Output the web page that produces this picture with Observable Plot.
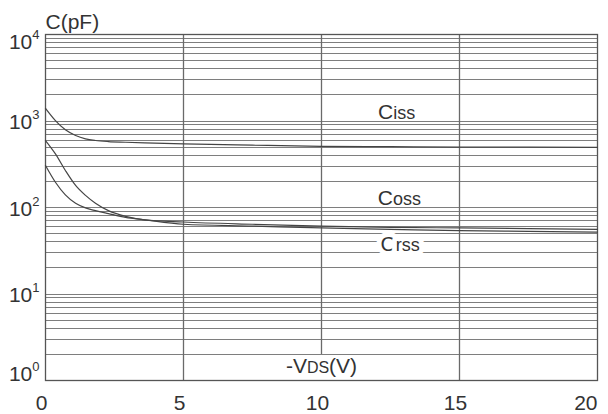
<!DOCTYPE html>
<html><head><meta charset="utf-8">
<script src="https://cdn.jsdelivr.net/npm/d3@7"></script>
<script src="https://cdn.jsdelivr.net/npm/@observablehq/plot@0.6"></script>
<style>body{margin:0;background:#fff}svg{display:block}</style>
</head><body><div id="chart"></div>
<script>
// -VDS (V)
const vds  = [0, 0.36, 0.72, 1.09, 1.45, 1.81, 2.28, 2.9, 3.6, 5, 7.5, 10, 12.5, 15, 17.5, 20];
// capacitances (pF)
const ciss = [1400, 1010, 790, 680, 622, 595, 578, 568, 558, 543, 525, 510, 505, 500, 498, 495];
const coss = [595, 417, 268, 180, 138, 112, 92, 79, 72, 68, 64, 61, 59, 58, 57, 56];
const crss = [306, 196, 140, 112, 99, 92, 85, 77, 72, 64, 61, 58, 56, 54, 53, 52];
const seriesNames = ["Ciss", "Coss", "Crss"];
const xTicks = [0, 5, 10, 15, 20];
const yExponents = [0, 1, 2, 3, 4];
const curveLabels = [
  {text: "C_iss", x: 12.05, y: 1060},
  {text: "C_oss", x: 12.04, y: 108},
  {text: "C_rss", x: 12.14, y: 31.2}
];
const yTitle = "C(pF)";
const xTitle = "-V_DS_(V)";

const series = [ciss, coss, crss];
const rows = [];
series.forEach((vals, i) => vals.forEach((v, j) => rows.push({series: seriesNames[i], x: vds[j], y: v})));

// log grid lines 1..9 x 10^k
const hGrid = [];
for (let e = 0; e < 4; e++) for (let m = 1; m < 10; m++) hGrid.push(m * 10 ** e);
hGrid.push(10 ** 4);

const font = "Liberation Sans, Arial, Helvetica, sans-serif";
const txt = "#333";

const svg = Plot.plot({
  width: 608, height: 414,
  marginLeft: 45, marginRight: 11, marginTop: 34, marginBottom: 34,
  style: {fontFamily: font, background: "white"},
  x: {domain: [0, 20], axis: null},
  y: {type: "log", domain: [1, 10000], axis: null},
  marks: [
    Plot.ruleY(hGrid, {stroke: "#7e7e7e", strokeWidth: 1, shapeRendering: "crispEdges"}),
    Plot.ruleX([5, 15], {stroke: "#6a6a6a", strokeWidth: 1.3}),
    Plot.ruleX([10], {y1: 2, y2: 10000, stroke: "#6a6a6a", strokeWidth: 1.3}),
    Plot.frame({stroke: "#555", strokeWidth: 1.3}),
    Plot.line(rows, {x: "x", y: "y", z: "series", stroke: "#454545", strokeWidth: 1.2, curve: "monotone-x"}),
    Plot.text(curveLabels.slice(0, 2), {x: "x", y: "y", text: "text", textAnchor: "start", lineAnchor: "bottom", fontSize: 21, fill: txt}),
    Plot.text(curveLabels.slice(2), {x: "x", y: "y", text: "text", textAnchor: "start", lineAnchor: "bottom", fontSize: 21, fill: txt, stroke: "white", strokeWidth: 10}),
    Plot.text([xTitle], {frameAnchor: "bottom", dy: -8, lineAnchor: "bottom", fontSize: 21, fill: txt}),
    Plot.text([yTitle], {frameAnchor: "top-left", dy: -6, lineAnchor: "bottom", textAnchor: "start", fontSize: 21, fill: txt}),
    Plot.text(xTicks.filter(d => d < 20), {x: d => d, frameAnchor: "bottom", dy: 29, dx: -4, lineAnchor: "bottom", fontSize: 21, fill: txt}),
    Plot.text(xTicks.filter(d => d === 20), {x: d => d, frameAnchor: "bottom", dy: 29, textAnchor: "end", lineAnchor: "bottom", fontSize: 21, fill: txt}),
    Plot.text(yExponents.filter(e => e > 0 && e < 4), {y: e => 10 ** e, text: e => `10^${e}`, frameAnchor: "left", textAnchor: "end", dx: -6, dy: 8, lineAnchor: "bottom", fontSize: 21, fill: txt}),
    Plot.text(yExponents.filter(e => e === 4), {y: e => 10 ** e, text: e => `10^${e}`, frameAnchor: "left", textAnchor: "end", dx: -6, dy: 14, lineAnchor: "bottom", fontSize: 21, fill: txt}),
    Plot.text(yExponents.filter(e => e === 0), {y: e => 10 ** e, text: e => `10^${e}`, frameAnchor: "left", textAnchor: "end", dx: -6, dy: 0, lineAnchor: "bottom", fontSize: 21, fill: txt})
  ]
});

// rich text: ^ = superscript, _ = toggle smaller same-baseline text
d3.select(svg).selectAll("text").each(function () {
  const el = d3.select(this);
  const s = el.text();
  if (s.includes("^")) {
    const [base, sup] = s.split("^");
    el.text(base);
    el.append("tspan").attr("font-size", 13).attr("dy", -10).text(sup);
  } else if (s.includes("_")) {
    const parts = s.split("_");
    const small = s.startsWith("-V") ? 16 : 18;
    el.text(null);
    parts.forEach((p, i) => {
      const t = el.append("tspan").text(p);
      if (i % 2 === 1) t.attr("font-size", small);
    });
  }
});

document.getElementById("chart").appendChild(svg);
</script>
</body></html>
